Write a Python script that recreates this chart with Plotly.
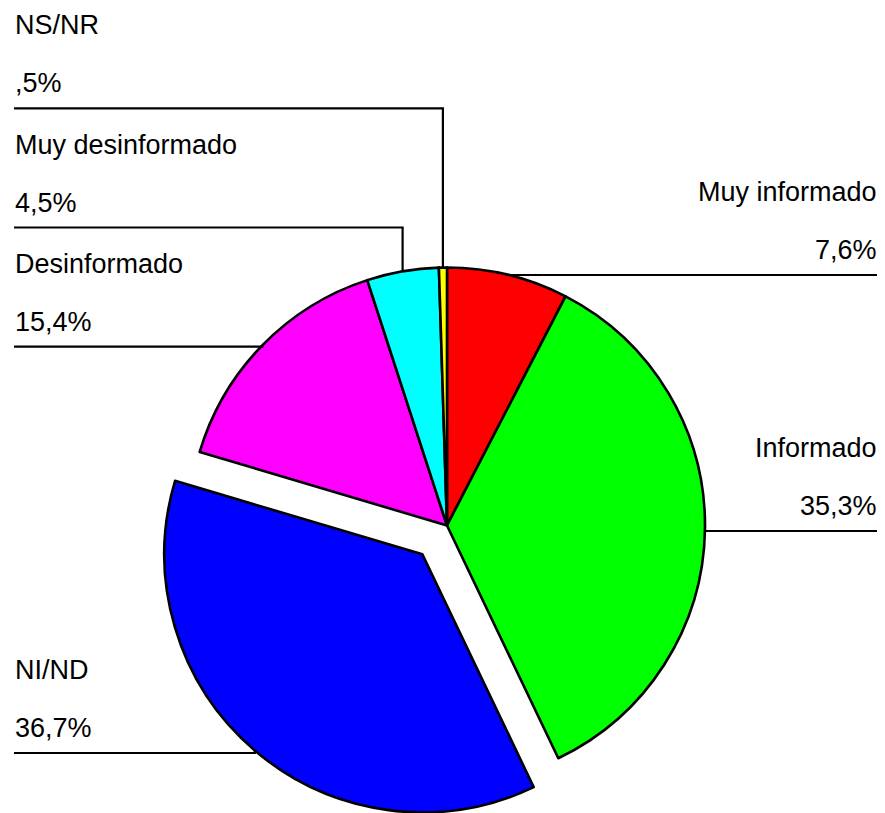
import math
import plotly.graph_objects as go

# data
labels = ["Muy informado", "Informado", "NI/ND", "Desinformado", "Muy desinformado", "NS/NR"]
values = [7.6, 35.3, 36.7, 15.4, 4.5, 0.5]
colors = ["#FF0000", "#00FF00", "#0000FF", "#FF00FF", "#00FFFF", "#FFFF00"]
pulled = "NI/ND"

# layout (window pixels); the page body adds an 8px margin, so the figure is offset
W, H = 885, 813
OFF = 8
FW, FH = W - OFF, H - OFF
cx, cy, r = 447 - OFF, 525.5 - OFF, 258
pull = 0.147
label_side = ["right", "right", "left", "left", "left", "left"]
label_line_y = [y - OFF for y in [275, 531, 753, 346.7, 227.5, 108.3]]
FONT = dict(family="Liberation Sans, Arial, sans-serif", size=27, color="black")


def pct_text(v):
    s = f"{v:.1f}".replace(".", ",")
    return s[1:] if s.startswith("0,") else s


def dom(x0, x1, y0, y1):
    # pixel box -> paper domain
    return dict(x=[x0 / FW, x1 / FW], y=[max(0, 1 - y1 / FH), min(1, 1 - y0 / FH)])


total = sum(values)
mids = []
acc = 0
for v in values:
    mids.append((acc + v / 2) / total * 2 * math.pi)
    acc += v

k = labels.index(pulled)
bx = cx + pull * r * math.sin(mids[k])
by = cy - pull * r * math.cos(mids[k])

transparent = "rgba(0,0,0,0)"
fig = go.Figure()

# main pie, pulled slice left empty
fig.add_trace(go.Pie(
    labels=labels, values=values, sort=False, direction="clockwise", rotation=0,
    marker=dict(colors=[transparent if l == pulled else c for l, c in zip(labels, colors)],
                line=dict(color="black", width=[0 if l == pulled else 2.6 for l in labels])),
    textinfo="none", hoverinfo="skip", showlegend=False,
    domain=dom(cx - r, cx + r, cy - r, cy + r),
))
# pulled slice, same pie shifted outward
fig.add_trace(go.Pie(
    labels=labels, values=values, sort=False, direction="clockwise", rotation=0,
    marker=dict(colors=[c if l == pulled else transparent for l, c in zip(labels, colors)],
                line=dict(color="black", width=[2.6 if l == pulled else 0 for l in labels])),
    textinfo="none", hoverinfo="skip", showlegend=False,
    domain=dom(bx - r, bx + r, by - r, by + r),
))

shapes = []
annotations = []
for i, lab in enumerate(labels):
    pcx, pcy = (bx, by) if lab == pulled else (cx, cy)
    ax = pcx + r * math.sin(mids[i])
    ay = pcy - r * math.cos(mids[i])
    ly = label_line_y[i]
    if label_side[i] == "left":
        x_edge, xa, tx = 14 - OFF, "left", 13 - OFF
    else:
        x_edge, xa, tx = 881 - OFF, "right", 879 - OFF
    shapes.append(dict(type="path", xref="x", yref="y",
                       path=f"M{x_edge},{ly} L{ax:.1f},{ly} L{ax:.1f},{ay:.1f}",
                       line=dict(color="black", width=2.2)))
    annotations.append(dict(x=tx, y=ly - 74 - 9, xref="x", yref="y", text=lab,
                            showarrow=False, xanchor=xa, yanchor="middle", font=FONT))
    annotations.append(dict(x=tx, y=ly - 16 - 9, xref="x", yref="y", text=pct_text(values[i]) + "%",
                            showarrow=False, xanchor=xa, yanchor="middle", font=FONT))

fig.update_layout(
    width=FW, height=FH,
    margin=dict(l=0, r=0, t=0, b=0),
    paper_bgcolor="white", plot_bgcolor="white",
    xaxis=dict(range=[0, FW], visible=False, fixedrange=True),
    yaxis=dict(range=[FH, 0], visible=False, fixedrange=True),
    shapes=shapes, annotations=annotations,
    showlegend=False,
)

fig.write_html("out.html")
